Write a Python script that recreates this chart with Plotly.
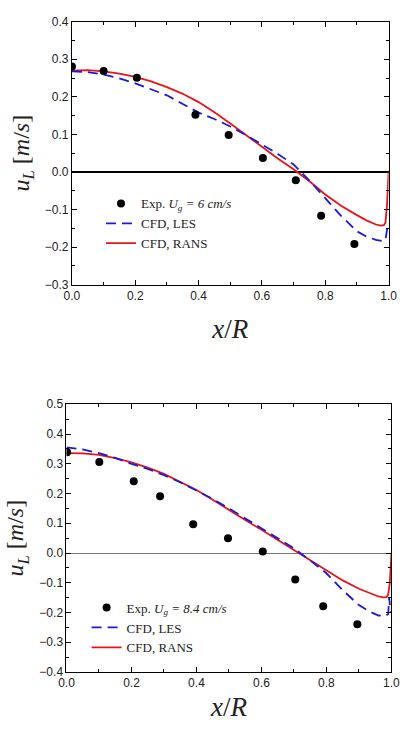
import plotly.graph_objects as go

# ---------------- data: top panel (Ug = 6 cm/s) ----------------
exp1_x = [0.0, 0.10, 0.205, 0.39, 0.495, 0.603, 0.707, 0.787, 0.892]
exp1_y = [0.281, 0.269, 0.251, 0.152, 0.098, 0.037, -0.022, -0.117, -0.192]

les1_x = [0.0, 0.05, 0.1, 0.15, 0.2, 0.25, 0.3, 0.35, 0.4, 0.45, 0.5, 0.55, 0.6, 0.65, 0.7,
          0.75, 0.8, 0.85, 0.9, 0.93, 0.96, 0.98, 0.99, 0.993, 0.996]
les1_y = [0.268, 0.266, 0.259, 0.249, 0.236, 0.221, 0.204, 0.181, 0.158, 0.141, 0.121, 0.098,
          0.073, 0.048, 0.020, -0.023, -0.070, -0.117, -0.158, -0.172, -0.181, -0.184, -0.182,
          -0.165, -0.149]

rans1_x = [0.0, 0.05, 0.1, 0.15, 0.2, 0.25, 0.3, 0.35, 0.4, 0.45, 0.5, 0.55, 0.6, 0.65, 0.7,
           0.75, 0.8, 0.85, 0.9, 0.93, 0.96, 0.975, 0.985, 0.99, 0.995, 1.0]
rans1_y = [0.270, 0.271, 0.268, 0.262, 0.253, 0.241, 0.226, 0.208, 0.186, 0.159, 0.129, 0.098,
           0.066, 0.036, 0.007, -0.025, -0.060, -0.090, -0.115, -0.129, -0.140, -0.143, -0.142,
           -0.135, -0.090, 0.0]

# ---------------- data: bottom panel (Ug = 8.4 cm/s) ----------------
exp2_x = [0.002, 0.101, 0.207, 0.288, 0.39, 0.497, 0.604, 0.704, 0.79, 0.895]
exp2_y = [0.339, 0.306, 0.241, 0.191, 0.097, 0.050, 0.005, -0.089, -0.179, -0.239]

les2_x = [0.0, 0.05, 0.1, 0.15, 0.2, 0.25, 0.3, 0.35, 0.4, 0.45, 0.5, 0.55, 0.6, 0.65, 0.7,
          0.75, 0.8, 0.85, 0.9, 0.93, 0.96, 0.98, 0.99, 0.993, 0.996, 1.0]
les2_y = [0.355, 0.348, 0.336, 0.320, 0.300, 0.283, 0.262, 0.238, 0.210, 0.182, 0.150, 0.117,
          0.083, 0.050, 0.016, -0.025, -0.068, -0.125, -0.175, -0.195, -0.210, -0.212, -0.205,
          -0.150, -0.185, -0.200]

rans2_x = [0.0, 0.05, 0.1, 0.15, 0.2, 0.25, 0.3, 0.35, 0.4, 0.45, 0.5, 0.55, 0.6, 0.65, 0.7,
           0.75, 0.8, 0.85, 0.9, 0.93, 0.96, 0.975, 0.985, 0.99, 0.995, 1.0]
rans2_y = [0.336, 0.335, 0.330, 0.319, 0.305, 0.287, 0.266, 0.240, 0.212, 0.179, 0.144, 0.111,
           0.078, 0.044, 0.010, -0.025, -0.059, -0.092, -0.120, -0.134, -0.146, -0.149, -0.148,
           -0.140, -0.100, 0.0]

labels_top = ["Exp. <i>U<sub>g</sub> = 6 cm/s</i>", "CFD, LES", "CFD, RANS"]
labels_bot = ["Exp. <i>U<sub>g</sub> = 8.4 cm/s</i>", "CFD, LES", "CFD, RANS"]

RED = "#e8141c"
BLUE = "#1a1adb"

fig = go.Figure()

def add_panel(xa, ya, leg, ex, ey, lx, ly, rx, ry, labels):
    fig.add_trace(go.Scatter(x=rx, y=ry, mode="lines", name=labels[2], xaxis=xa, yaxis=ya,
                             legend=leg, legendrank=3,
                             line=dict(color=RED, width=1.8)))
    fig.add_trace(go.Scatter(x=lx, y=ly, mode="lines", name=labels[1], xaxis=xa, yaxis=ya,
                             legend=leg, legendrank=2,
                             line=dict(color=BLUE, width=1.8, dash="10px,6px")))
    fig.add_trace(go.Scatter(x=ex, y=ey, mode="markers", name=labels[0], xaxis=xa, yaxis=ya,
                             legend=leg, legendrank=1,
                             marker=dict(color="black", size=8)))

add_panel("x", "y", "legend", exp1_x, exp1_y, les1_x, les1_y, rans1_x, rans1_y, labels_top)
add_panel("x2", "y2", "legend2", exp2_x, exp2_y, les2_x, les2_y, rans2_x, rans2_y, labels_bot)

W, H = 411, 733

def px_x(p):
    return p / W

def px_y(p):
    return 1 - p / H

tickfont = dict(family="Liberation Sans, Arial", size=12, color="#222")
ytitlefont = dict(family="Liberation Serif, Times New Roman", size=24, color="#222")
xtitlefont = dict(family="Liberation Serif, Times New Roman", size=27, color="#222")

common_x = dict(range=[0, 1.0], dtick=0.2, tick0=0, tickformat=".1f", ticks="inside", ticklen=5,
                tickcolor="black", showline=True, linecolor="black", linewidth=1, mirror="allticks",
                showgrid=False, zeroline=False, tickfont=tickfont,
                minor=dict(ticks="inside", ticklen=3, dtick=0.1, tickcolor="black", showgrid=False))
common_y = dict(dtick=0.1, tickformat=".1f", ticks="inside", ticklen=5,
                tickcolor="black", showline=True, linecolor="black", linewidth=1, mirror="allticks",
                showgrid=False, zeroline=True, tickfont=tickfont,
                minor=dict(ticks="inside", ticklen=3, dtick=0.05, tickcolor="black", showgrid=False))

fig.update_layout(
    width=W, height=H, margin=dict(l=0, r=0, t=0, b=0),
    plot_bgcolor="white", paper_bgcolor="white",
    xaxis=dict(common_x, domain=[px_x(66.7), px_x(397)], anchor="y",
               title=dict(text="<i>x</i>/<i>R</i>", font=xtitlefont, standoff=17)),
    yaxis=dict(common_y, domain=[px_y(283), px_y(15)], anchor="x", range=[-0.3, 0.4],
               tick0=-0.3, zerolinecolor="black", zerolinewidth=1.5,
               title=dict(text="<i>u<sub>L</sub></i> [<i>m</i>/<i>s</i>]", font=ytitlefont, standoff=8)),
    xaxis2=dict(common_x, domain=[px_x(61), px_x(400)], anchor="y2",
                title=dict(text="<i>x</i>/<i>R</i>", font=xtitlefont, standoff=7)),
    yaxis2=dict(common_y, domain=[px_y(678), px_y(405)], anchor="x2", range=[-0.4, 0.5],
                tick0=-0.4, zerolinecolor="#777", zerolinewidth=1,
                title=dict(text="<i>u<sub>L</sub></i> [<i>m</i>/<i>s</i>]", font=ytitlefont, standoff=8)),
    legend=dict(x=px_x(97), y=px_y(185), xanchor="left", yanchor="top", bgcolor="rgba(0,0,0,0)",
                font=dict(family="Liberation Serif, Times New Roman", size=13, color="#222"),
                itemwidth=30, tracegroupgap=0),
    legend2=dict(x=px_x(82), y=px_y(597), xanchor="left", yanchor="top", bgcolor="rgba(0,0,0,0)",
                 font=dict(family="Liberation Serif, Times New Roman", size=13, color="#222"),
                 itemwidth=30, tracegroupgap=0),
    showlegend=True,
)

fig.write_html("out.html")
